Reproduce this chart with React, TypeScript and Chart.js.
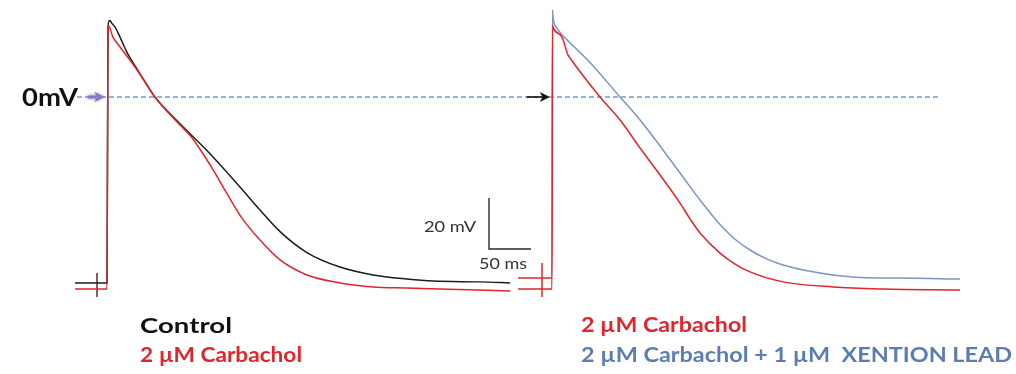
import React, { useEffect, useRef } from "react";
import { Chart, registerables } from "chart.js";
Chart.register(...registerables);

// ---- Data: time (ms from upstroke) and membrane potential (mV) ----
// Left panel
const controlT = [-38, 0, 1.2, 2.4, 3.6, 5.5, 9.5, 15.5, 23.8, 35.7, 47, 57, 86.9, 119, 158.3, 182.1, 206, 238, 277.4, 316.7, 357, 388, 444, 480];
const controlV = [-72.9, -72.9, 27, 29.8, 30, 29, 27.5, 23.5, 17.5, 11, 5, 0, -10.5, -21, -35.3, -44.3, -52.8, -61, -66.7, -69.8, -71.4, -72.2, -72.5, -72.9];
const carbLeftT = [-38, 0, 1.2, 7.1, 15.5, 23.8, 35.7, 47, 57, 86.9, 100, 110.7, 126.2, 143, 160.7, 182.1, 206, 238, 277.4, 316.7, 357, 396, 480];
const carbLeftV = [-75.3, -75.3, 28.2, 23.5, 19.6, 16, 10.6, 5, 0, -11, -15.5, -20.5, -28.5, -38, -47.5, -56.1, -63.9, -69.8, -72.9, -74.5, -74.9, -75.3, -76.1];
// Right panel
const carbRightT = [-40.5, 0, 0.6, 1.2, 11.9, 19, 21.4, 57.1, 81, 104.8, 128.6, 152.4, 164.3, 176.2, 200, 217.9, 235.7, 275, 334.5, 394, 485.7];
const carbRightV = [-75.3, -75.3, 28.2, 27.3, 23.5, 16.5, 15.3, 0, -9, -20, -30.6, -41.6, -47.8, -53.3, -61.2, -65.5, -68.6, -72.5, -74.5, -75.3, -75.7];
const xentionT = [-40.5, 0, 0.5, 1.5, 6, 17.9, 30, 45.2, 81, 104.8, 128.6, 152.4, 176.2, 200, 217.9, 235.7, 253.6, 275, 334.5, 386.9, 414.3, 485.7];
const xentionV = [-71, -71, 34.1, 30.5, 27, 22.4, 18.5, 13.5, 0, -9, -19.2, -29.8, -40.4, -50, -55.8, -60, -63.2, -65.9, -69.8, -71, -71, -71.4];

// Stimulus marks (ms from upstroke, mV range)
const stimLeftT = -11.9;
const stimLeftV = [-69, -78.4];
const stimRightT = -11.9;
const stimRightV = [-65.1, -78.4];

// Scale bar: 20 mV, 50 ms
const scaleBarMv = 20;
const scaleBarMs = 50;

// Text
const zeroLabel = "0mV";
const scaleMvLabel = "20 mV";
const scaleMsLabel = "50 ms";
const leftLegend = ["Control", "2 µM Carbachol"];
const rightLegend = ["2 µM Carbachol", "2 µM Carbachol + 1 µM  XENTION LEAD"];

// ---- Layout constants (shared time axis) ----
const PX_PER_MS = 0.84;
const PX_PER_MV = 2.55;
const W = 1016;
const H = 374;
const ZERO_PX = 97;
const X_MAX = W / PX_PER_MS;
const Y_MAX = ZERO_PX / PX_PER_MV;
const Y_MIN = (ZERO_PX - H) / PX_PER_MV;
const P1 = 107 / PX_PER_MS; // left panel upstroke
const P2 = 552 / PX_PER_MS; // right panel upstroke
const ZERO_LINE = [77 / PX_PER_MS, 940 / PX_PER_MS];
const SCALE_ORIGIN = [489 / PX_PER_MS, (ZERO_PX - 249) / PX_PER_MV];
const ARROW1 = [-23, -3];
const ARROW2 = [-30, -2.5];

const RED = "#e2252d";
const BLACK = "#1c1c1c";
const BLUE = "#7b95c4";
const BLUE_TEXT = "#5b7db4";

const pts = (off: number, t: number[], v: number[]) => t.map((tt, i) => ({ x: off + tt, y: v[i] }));

function drawArrow(ctx: CanvasRenderingContext2D, x0: number, x1: number, y: number, color: string, lw: number, head: number, blur: number) {
  ctx.save();
  ctx.strokeStyle = color;
  ctx.fillStyle = color;
  ctx.lineWidth = lw;
  if (blur) {
    ctx.shadowColor = color;
    ctx.shadowBlur = blur;
  }
  ctx.beginPath();
  ctx.moveTo(x0, y);
  ctx.lineTo(x1 - head * 0.8, y);
  ctx.stroke();
  ctx.beginPath();
  ctx.moveTo(x1, y);
  ctx.lineTo(x1 - head, y - head * 0.5);
  ctx.lineTo(x1 - head * 0.75, y);
  ctx.lineTo(x1 - head, y + head * 0.5);
  ctx.closePath();
  ctx.fill();
  ctx.restore();
}

function label(ctx: CanvasRenderingContext2D, text: string, x: number, yMid: number, font: string, color: string, width: number) {
  ctx.save();
  ctx.font = font;
  ctx.fillStyle = color;
  ctx.textBaseline = "middle";
  ctx.textAlign = "left";
  const w = ctx.measureText(text).width;
  ctx.translate(x, yMid);
  ctx.scale(width / w, 1);
  ctx.fillText(text, 0, 0);
  ctx.restore();
}

const annotate = {
  id: "annotate",
  afterDatasetsDraw(chart: any) {
    const { ctx } = chart;
    const xs = chart.scales.x;
    const ys = chart.scales.y;
    const y0 = ys.getPixelForValue(0);
    drawArrow(ctx, xs.getPixelForValue(P1 + ARROW1[0]), xs.getPixelForValue(P1 + ARROW1[1]), y0, "#8679c8", 3, 10, 3);
    drawArrow(ctx, xs.getPixelForValue(P2 + ARROW2[0]), xs.getPixelForValue(P2 + ARROW2[1]), y0, "#111111", 1.6, 10, 0);

    label(ctx, zeroLabel, 22, y0 + 1, "bold 24px Lato", "#111111", 56);
    const sx = xs.getPixelForValue(SCALE_ORIGIN[0]);
    const sy = ys.getPixelForValue(SCALE_ORIGIN[1]);
    label(ctx, scaleMvLabel, sx - 65, sy - 22, "15px Lato", "#333333", 52);
    label(ctx, scaleMsLabel, sx - 10, sy + 15, "15px Lato", "#333333", 48);

    label(ctx, leftLegend[0], 140, 327, "bold 20px Lato", "#111111", 92);
    label(ctx, leftLegend[1], 140, 356, "bold 20px Lato", RED, 162);
    label(ctx, rightLegend[0], 581, 326, "bold 20px Lato", RED, 166);
    label(ctx, rightLegend[1], 581, 356, "bold 20px Lato", BLUE_TEXT, 431);
  },
};

export default function App() {
  const ref = useRef<HTMLCanvasElement | null>(null);
  useEffect(() => {
    if (!ref.current) return;
    const line = (data: any[], color: string, extra: any = {}) => ({
      data,
      borderColor: color,
      borderWidth: 1.5,
      pointRadius: 0,
      fill: false,
      cubicInterpolationMode: "monotone",
      ...extra,
    });
    const straight = { cubicInterpolationMode: "default", tension: 0 };
    const chart = new Chart(ref.current, {
      type: "line",
      data: {
        datasets: [
          line(pts(P1, carbLeftT, carbLeftV), RED),
          line(pts(P1, controlT, controlV), BLACK),
          line(pts(P2, carbRightT, carbRightV), RED),
          line(pts(P2, xentionT, xentionV), BLUE, {
            segment: { borderColor: (c: any) => (c.p0DataIndex === 0 ? RED : undefined) },
          }),
          line([{ x: P1 + stimLeftT, y: stimLeftV[0] }, { x: P1 + stimLeftT, y: stimLeftV[1] }], "#5a2a2c", straight),
          line([{ x: P2 + stimRightT, y: stimRightV[0] }, { x: P2 + stimRightT, y: stimRightV[1] }], RED, straight),
          line(
            [
              { x: SCALE_ORIGIN[0], y: SCALE_ORIGIN[1] + scaleBarMv },
              { x: SCALE_ORIGIN[0], y: SCALE_ORIGIN[1] },
              { x: SCALE_ORIGIN[0] + scaleBarMs, y: SCALE_ORIGIN[1] },
            ],
            "#2a2a2a",
            { ...straight, borderWidth: 1.4 }
          ),
          line([{ x: ZERO_LINE[0], y: 0 }, { x: ZERO_LINE[1], y: 0 }], "#7896cc", {
            ...straight,
            borderWidth: 1.3,
            borderDash: [5, 3],
          }),
        ],
      },
      options: {
        animation: false,
        responsive: false,
        parsing: false as any,
        normalized: true,
        layout: { padding: 0 },
        plugins: { legend: { display: false }, tooltip: { enabled: false } },
        events: [],
        scales: {
          x: { type: "linear", min: 0, max: X_MAX, display: false },
          y: { type: "linear", min: Y_MIN, max: Y_MAX, display: false },
        },
      },
      plugins: [annotate],
    } as any);
    return () => chart.destroy();
  }, []);
  return (
    <div style={{ position: "absolute", left: 0, top: 0, width: W, height: H, background: "#ffffff" }}>
      <canvas ref={ref} width={W} height={H} style={{ width: W, height: H, display: "block" }} />
    </div>
  );
}
